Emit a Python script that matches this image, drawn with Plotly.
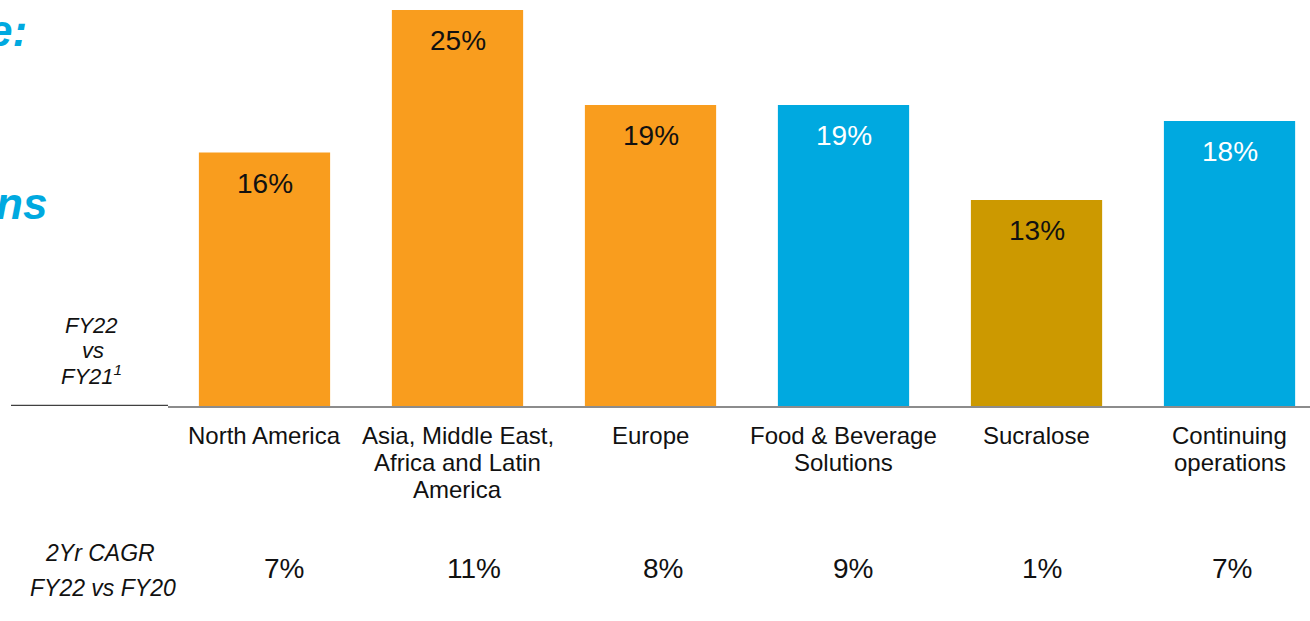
import plotly.graph_objects as go

categories = ["North America", "Asia, Middle East,<br>Africa and Latin<br>America", "Europe",
              "Food & Beverage<br>Solutions", "Sucralose", "Continuing<br>operations"]
fy22_vs_fy21 = [16, 25, 19, 19, 13, 18]
cagr_2yr = [7, 11, 8, 9, 1, 7]
bar_colors = ["#F99D1E", "#F99D1E", "#F99D1E", "#00A9E0", "#CC9900", "#00A9E0"]
label_colors = ["#111111", "#111111", "#111111", "#FFFFFF", "#111111", "#FFFFFF"]

FONT = "Liberation Sans, Arial, sans-serif"
W, H = 1310, 621
ML, MB = 168, 215
PW = W - ML
PH = H - MB
STEP = PW / 5.917
xs = list(range(len(categories)))

fig = go.Figure()
fig.add_trace(go.Bar(x=xs, y=fy22_vs_fy21, marker=dict(color=bar_colors, line=dict(width=0)),
                     width=0.68, hoverinfo="skip"))

ann = []
for i, v in enumerate(fy22_vs_fy21):
    ann.append(dict(x=i, y=v, xref="x", yref="y", text=f"{v}%", showarrow=False,
                    yanchor="top", yshift=-13, font=dict(size=28, color=label_colors[i], family=FONT)))
for i, c in enumerate(categories):
    for j, line in enumerate(c.split("<br>")):
        ann.append(dict(x=i, y=0, xref="x", yref="paper", text=line, showarrow=False,
                        yanchor="middle", yshift=-(29 + 27 * j),
                        font=dict(size=24, color="#111111", family=FONT)))
for i, v in enumerate(cagr_2yr):
    cx = (284 + 189.5 * i - ML) / STEP - 0.5
    ann.append(dict(x=cx, y=0, xref="x", yref="paper", text=f"{v}%", showarrow=False,
                    yanchor="middle", yshift=-(568 - PH), font=dict(size=28, color="#111111", family=FONT)))

def px_ann(text, cx, cy, size, color="#111111", bold=False, xanchor="center"):
    t = f"<b><i>{text}</i></b>" if bold else f"<i>{text}</i>"
    return dict(x=0, y=0, xref="paper", yref="paper", xshift=cx - ML, yshift=PH - cy,
                text=t, showarrow=False, xanchor=xanchor, yanchor="middle",
                font=dict(size=size, color=color, family=FONT))

ann.append(px_ann("FY22", 91, 325, 22))
ann.append(px_ann("vs", 93, 350, 22))
ann.append(px_ann("FY21<sup>1</sup>", 91, 375, 22))
ann.append(px_ann("2Yr CAGR", 100, 553, 23))
ann.append(px_ann("FY22 vs FY20", 103, 588, 23))
ann.append(px_ann("e:", -14, 30, 44, color="#00A9E0", bold=True, xanchor="left"))
ann.append(px_ann("ns", -6, 203, 44, color="#00A9E0", bold=True, xanchor="left"))

shapes = [
    dict(type="line", xref="paper", yref="y", x0=(11 - ML) / PW, x1=0, y0=0, y1=0,
         line=dict(color="#404040", width=2.5)),
]

fig.update_layout(
    width=W, height=H, margin=dict(l=ML, r=0, t=0, b=MB),
    paper_bgcolor="white", plot_bgcolor="white", showlegend=False,
    xaxis=dict(range=[-0.5, 5.417], showticklabels=False, showgrid=False, zeroline=False,
               showline=True, linecolor="#8C8C8C", linewidth=2, ticks=""),
    yaxis=dict(range=[0, PH / 15.84], visible=False, showgrid=False, zeroline=False),
    annotations=ann, shapes=shapes,
)
fig.write_html("out.html")
